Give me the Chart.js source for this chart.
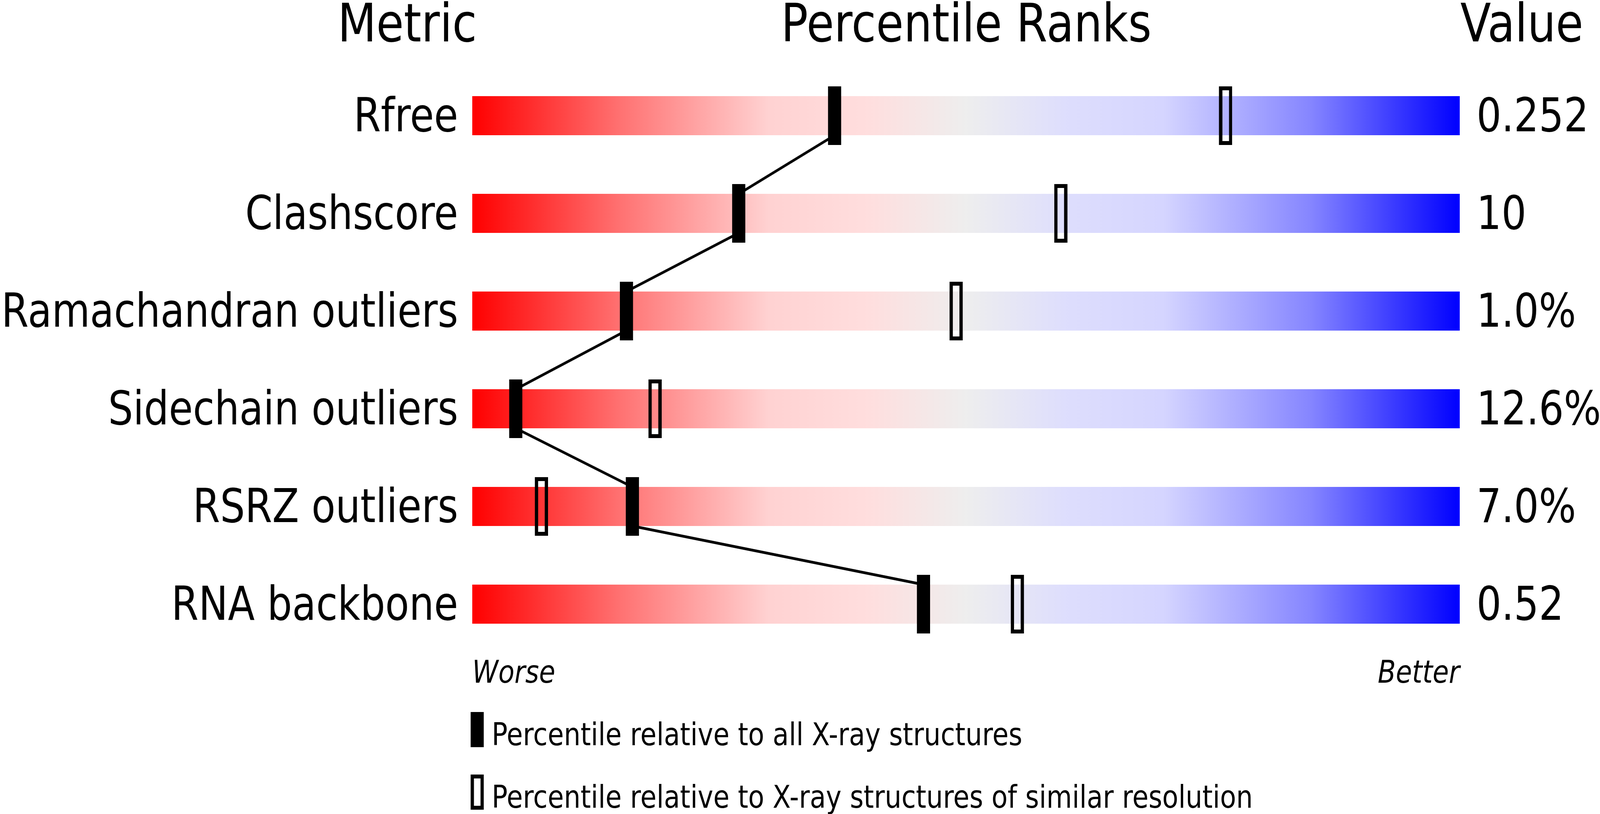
<!DOCTYPE html>
<html>
<head>
<meta charset="utf-8">
<script src="https://cdn.jsdelivr.net/npm/chart.js@4.4.1/dist/chart.umd.min.js"></script>
<style>
  html, body { margin: 0; padding: 0; background: #fff; overflow: hidden; }
  #wrap { position: relative; width: 4858px; height: 2083px; transform-origin: 0 0; }
  #c { position: absolute; left: 0; top: 0; }
  .txt {
    position: absolute;
    font-family: 'DejaVu Sans', sans-serif;
    color: #000;
    white-space: nowrap;
    line-height: 1.164;
  }
  .hdr { font-size: 136px; top: -20px; }
  .end { font-size: 80px; font-style: italic; top: 1673px; }
  .leg { font-size: 80px; left: 1493px; }
  .key { position: absolute; left: 1429px; width: 40px; height: 90px; box-sizing: border-box; }
</style>
</head>
<body>
<div id="wrap">
  <canvas id="c" width="4858" height="2083"></canvas>

  <div class="txt hdr" style="right: 3410px; text-align: right;">Metric</div>
  <div class="txt hdr" style="left: 2934px; transform: translateX(-50%);">Percentile Ranks</div>
  <div class="txt hdr" style="left: 4434px;">Value</div>

  <div class="txt end" style="left: 1434px;">Worse</div>
  <div class="txt end" style="right: 426px; text-align: right;">Better</div>

  <div class="key" style="top: 1822px; background: #000;"></div>
  <div class="txt leg" style="top: 1833px;">Percentile relative to all X-ray structures</div>
  <div class="key" style="top: 1982px; border: 10px solid #000;"></div>
  <div class="txt leg" style="top: 1993px;">Percentile relative to X-ray structures of similar resolution</div>
</div>

<script>
// 지표 이름과 값
const metrics = ['Rfree', 'Clashscore', 'Ramachandran outliers', 'Sidechain outliers', 'RSRZ outliers', 'RNA backbone'];
const metricValues = ['0.252', '10', '1.0%', '12.6%', '7.0%', '0.52'];

// 백분위 (모든 X-ray 구조 / 비슷한 해상도)
const pctAll = [36.7, 27.0, 15.6, 4.4, 16.2, 45.7];
const pctSimilar = [76.3, 59.6, 49.0, 18.5, 7.0, 55.2];

// 막대 양끝 (0~100)
const rangeMin = 0;
const rangeMax = 100;

// ==================== 스타일 ====================

const FONT = 'DejaVu Sans';
const PAGE_W = 4858;
const PAGE_H = 2083;
const BAR_HALF = 0.2; // 막대 높이의 절반 (행 간격 기준)

const GRADIENT_STOPS = [
  [0.0, '#ff0000'],
  [0.15, '#ff7272'],
  [0.3, '#ffd2d2'],
  [0.4, '#ffdede'],
  [0.5, '#eeeeee'],
  [0.6, '#dedefd'],
  [0.7, '#d5d5ff'],
  [0.85, '#8585ff'],
  [1.0, '#0000ff'],
];

// 창 크기가 다르면 전체 그림을 창에 맞춤
function fitToWindow() {
  const sx = window.innerWidth / PAGE_W;
  const sy = window.innerHeight / PAGE_H;
  document.getElementById('wrap').style.transform = `scale(${sx}, ${sy})`;
}
fitToWindow();

// 마커 이미지 만들기
function makeMarker(filled) {
  const cv = document.createElement('canvas');
  cv.width = 40;
  cv.height = 150;
  const g = cv.getContext('2d');
  g.fillStyle = '#000';
  g.strokeStyle = '#000';
  if (filled) {
    g.fillRect(0, 0, 40, 150);
  } else {
    g.lineWidth = 10;
    g.strokeRect(5, 5, 30, 140);
  }
  return cv;
}

let gradientCache = null;
function barGradient(context) {
  const area = context.chart.chartArea;
  if (!area) return '#eeeeee';
  if (gradientCache && gradientCache.left === area.left && gradientCache.right === area.right) {
    return gradientCache.grad;
  }
  const grad = context.chart.ctx.createLinearGradient(area.left, 0, area.right, 0);
  GRADIENT_STOPS.forEach(([pos, col]) => grad.addColorStop(pos, col));
  gradientCache = { left: area.left, right: area.right, grad };
  return grad;
}

// ==================== 데이터 ====================

const rowIdx = metrics.map((_, i) => i);

const barData = rowIdx.map((i) => ({ x: [rangeMin, rangeMax], y: i }));
const allPoints = rowIdx.map((i) => ({ x: pctAll[i], y: i }));
const similarPoints = rowIdx.map((i) => ({ x: pctSimilar[i], y: i }));

// 연결선: 각 막대의 위/아래 가장자리를 지나감
const linkPoints = [];
rowIdx.forEach((i) => {
  linkPoints.push({ x: pctAll[i], y: i - BAR_HALF });
  linkPoints.push({ x: pctAll[i], y: i + BAR_HALF });
});

function rowTicks(scale) {
  scale.ticks = rowIdx.map((i) => ({ value: i }));
}

function fixWidth(w) {
  return (scale) => {
    scale.width = w;
    scale.paddingTop = 0;
    scale.paddingBottom = 0;
  };
}

function rowAxis(position, width, padding, labels) {
  return {
    type: 'linear',
    position: position,
    reverse: true,
    offset: false,
    min: -0.5,
    max: 5.5,
    grid: { display: false, drawTicks: false },
    border: { display: false },
    afterBuildTicks: rowTicks,
    afterFit: fixWidth(width),
    ticks: {
      autoSkip: false,
      padding: padding,
      labelOffset: 9,
      color: '#000',
      font: { family: FONT, size: 119 },
      callback: (v) => labels[v],
    },
  };
}

// ==================== 차트 ====================

new Chart(document.getElementById('c').getContext('2d'), {
  data: {
    datasets: [
      {
        type: 'bar',
        indexAxis: 'y',
        data: barData,
        backgroundColor: barGradient,
        borderWidth: 0,
        categoryPercentage: 1,
        barPercentage: 0.4,
        grouped: false,
        order: 3,
        yAxisID: 'y',
      },
      {
        type: 'line',
        data: linkPoints,
        borderColor: '#000',
        borderWidth: 7,
        pointRadius: 0,
        fill: false,
        tension: 0,
        order: 2,
        yAxisID: 'y',
      },
      {
        type: 'line',
        data: similarPoints,
        showLine: false,
        pointStyle: makeMarker(false),
        pointRadius: 1,
        order: 1,
        yAxisID: 'y',
      },
      {
        type: 'line',
        data: allPoints,
        showLine: false,
        pointStyle: makeMarker(true),
        pointRadius: 1,
        order: 0,
        yAxisID: 'y',
      },
    ],
  },
  options: {
    responsive: false,
    devicePixelRatio: 1,
    animation: false,
    events: [],
    layout: { padding: { left: 0, right: 0, top: 171, bottom: 412 } },
    plugins: {
      legend: { display: false },
      tooltip: { enabled: false },
    },
    scales: {
      x: {
        type: 'linear',
        min: rangeMin,
        max: rangeMax,
        offset: false,
        display: false,
      },
      y: rowAxis('left', 1434, 43, metrics),
      yValue: rowAxis('right', PAGE_W - 4432, 51, metricValues),
    },
  },
});
</script>
</body>
</html>
